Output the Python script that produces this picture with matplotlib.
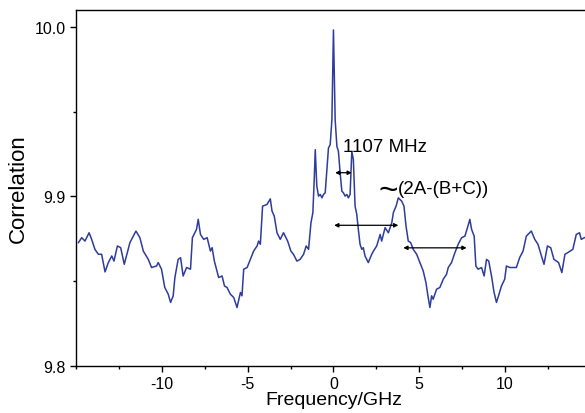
import matplotlib
matplotlib.use("Agg")
import matplotlib.pyplot as plt
from matplotlib.ticker import MultipleLocator, FixedLocator, FormatStrFormatter

plt.rcParams['font.family'] = ['Liberation Sans', 'DejaVu Sans']
plt.rcParams['axes.unicode_minus'] = False

# frequency (GHz) and correlation
freq = [-14.86, -14.67, -14.48, -14.24, -14.09, -13.90, -13.70, -13.51, -13.31, -13.12,
        -12.92, -12.79, -12.59, -12.40, -12.19, -11.86, -11.51, -11.28, -11.08, -10.79,
        -10.60, -10.31, -10.21, -10.02, -9.83, -9.63, -9.49, -9.34, -9.24, -9.05,
        -8.91, -8.76, -8.56, -8.33, -8.22, -7.98, -7.88, -7.75, -7.56, -7.36,
        -7.17, -7.07, -6.94, -6.69, -6.49, -6.35, -6.20, -6.01, -5.81, -5.62,
        -5.42, -5.33, -5.23, -5.03, -4.84, -4.65, -4.45, -4.36, -4.26, -4.13,
        -3.87, -3.68, -3.58, -3.45, -3.29, -3.10, -2.91, -2.67, -2.48, -2.33,
        -2.13, -1.94, -1.74, -1.59, -1.45, -1.31, -1.20, -1.12, -1.06, -0.97,
        -0.87, -0.77, -0.67, -0.58, -0.48, -0.38, -0.29, -0.19, -0.09, 0.00,
        0.10, 0.20, 0.29, 0.39, 0.49, 0.58, 0.68, 0.78, 0.87, 0.97,
        1.07, 1.16, 1.26, 1.36, 1.45, 1.55, 1.65, 1.74, 1.84, 2.03,
        2.23, 2.33, 2.52, 2.72, 2.81, 3.01, 3.20, 3.40, 3.49, 3.65,
        3.78, 3.98, 4.11, 4.23, 4.36, 4.50, 4.65, 4.85, 5.04, 5.23,
        5.39, 5.49, 5.62, 5.72, 5.81, 6.01, 6.20, 6.40, 6.59, 6.69,
        6.88, 7.08, 7.27, 7.47, 7.66, 7.81, 7.95, 8.05, 8.20, 8.30,
        8.43, 8.63, 8.78, 8.92, 9.05, 9.21, 9.36, 9.50, 9.59, 9.79,
        9.98, 10.08, 10.27, 10.47, 10.66, 10.85, 11.05, 11.24, 11.53, 11.73,
        11.92, 12.12, 12.27, 12.47, 12.66, 12.85, 13.12, 13.31, 13.49, 13.66,
        13.95, 14.15, 14.34, 14.44, 14.63]
corr = [9.8728, 9.8757, 9.8737, 9.8786, 9.8747, 9.8688, 9.8659, 9.8659, 9.8555, 9.8610,
        9.8649, 9.8619, 9.8708, 9.8698, 9.8600, 9.8728, 9.8796, 9.8757, 9.8678, 9.8629,
        9.8581, 9.8590, 9.8610, 9.8571, 9.8463, 9.8424, 9.8375, 9.8414, 9.8522, 9.8629,
        9.8639, 9.8531, 9.8581, 9.8571, 9.8757, 9.8806, 9.8865, 9.8776, 9.8747, 9.8757,
        9.8678, 9.8698, 9.8619, 9.8522, 9.8531, 9.8472, 9.8463, 9.8424, 9.8404, 9.8345,
        9.8434, 9.8414, 9.8571, 9.8581, 9.8629, 9.8678, 9.8708, 9.8737, 9.8718, 9.8943,
        9.8953, 9.8986, 9.8914, 9.8884, 9.8786, 9.8747, 9.8786, 9.8737, 9.8678, 9.8659,
        9.8619, 9.8629, 9.8659, 9.8708, 9.8688, 9.8845, 9.8904, 9.9100, 9.9276, 9.9061,
        9.9002, 9.9012, 9.8992, 9.9012, 9.9022, 9.9159, 9.9286, 9.9306, 9.9453, 9.9982,
        9.9453, 9.9296, 9.9266, 9.9139, 9.9031, 9.9022, 9.9002, 9.9012, 9.8992, 9.9012,
        9.9266, 9.9218, 9.8943, 9.8894, 9.8806, 9.8718, 9.8688, 9.8698, 9.8649, 9.8610,
        9.8659, 9.8678, 9.8708, 9.8776, 9.8737, 9.8816, 9.8786, 9.8845, 9.8904, 9.8943,
        9.8992, 9.8972, 9.8943, 9.8825, 9.8737, 9.8728, 9.8688, 9.8659, 9.8610, 9.8561,
        9.8492, 9.8424, 9.8345, 9.8414, 9.8394, 9.8453, 9.8463, 9.8512, 9.8541, 9.8581,
        9.8610, 9.8669, 9.8718, 9.8757, 9.8766, 9.8816, 9.8865, 9.8806, 9.8766, 9.8590,
        9.8571, 9.8581, 9.8531, 9.8629, 9.8619, 9.8531, 9.8434, 9.8375, 9.8404, 9.8472,
        9.8512, 9.8590, 9.8581, 9.8581, 9.8581, 9.8639, 9.8678, 9.8766, 9.8796, 9.8747,
        9.8718, 9.8649, 9.8600, 9.8708, 9.8698, 9.8629, 9.8610, 9.8551, 9.8659, 9.8669,
        9.8688, 9.8776, 9.8786, 9.8747, 9.8757]

xticks = [-10, -5, 0, 5, 10]

# double arrows: (x start, x end, y)
arrows = [(0.10, 1.07, 9.914),
          (0.04, 3.78, 9.883),
          (4.07, 7.76, 9.8697)]

fig = plt.figure(figsize=(5.85, 4.14), dpi=100)
# axes run past the right edge, as in the cropped original
ax = fig.add_axes([0.130, 0.1135, 0.880, 0.860])

ax.plot(freq, corr, color='#2e3c9c', lw=1.1)

for x0, x1, y in arrows:
    ax.annotate('', xy=(x1, y), xytext=(x0, y),
                arrowprops=dict(arrowstyle='<|-|>', color='black', lw=0.9,
                                mutation_scale=6, shrinkA=0, shrinkB=0))

ax.text(0.54, 9.9267, '1107 MHz', fontsize=13.5, ha='left', va='baseline')
ax.text(3.78, 9.9018, '(2A-(B+C))', fontsize=13.5, ha='left', va='baseline')
ax.text(3.78, 9.9035, '~', fontsize=24, ha='right', va='center')

ax.set_xlim(-15, 15)
ax.set_ylim(9.8, 10.01)
ax.xaxis.set_major_locator(FixedLocator(xticks))
ax.xaxis.set_minor_locator(MultipleLocator(2.5))
ax.yaxis.set_major_locator(MultipleLocator(0.1))
ax.yaxis.set_minor_locator(MultipleLocator(0.05))
ax.yaxis.set_major_formatter(FormatStrFormatter('%.1f'))
ax.tick_params(which='major', direction='out', length=4.5, width=1.0, labelsize=11.5, pad=3)
ax.tick_params(which='minor', direction='out', length=2.5, width=1.0)
ax.tick_params(top=False, right=False)
for s in ax.spines.values():
    s.set_linewidth(1.0)

ax.set_xlabel('Frequency/GHz', fontsize=14, labelpad=0)
ax.set_ylabel('Correlation', fontsize=16, labelpad=4)

fig.savefig('out.png', dpi=100)
